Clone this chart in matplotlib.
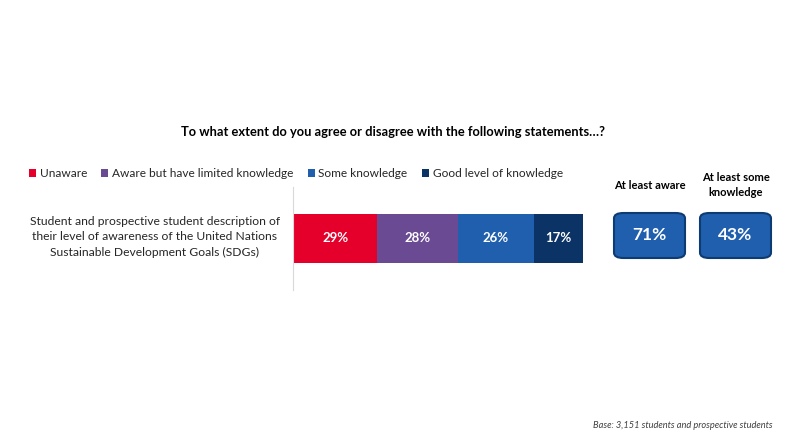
import matplotlib.pyplot as plt
from matplotlib.patches import FancyBboxPatch

plt.rcParams['font.family'] = ['Lato', 'DejaVu Sans']

categories = ["Unaware", "Aware but have limited knowledge", "Some knowledge", "Good level of knowledge"]
values = [29, 28, 26, 17]
colors = ['#E4002B', '#6B4A94', '#1F5FAD', '#0B3365']
row_label = "Student and prospective student description of\ntheir level of awareness of the United Nations\nSustainable Development Goals (SDGs)"
summary_labels = ["At least aware", "At least some\nknowledge"]
summary_values = [71, 43]

fig = plt.figure(figsize=(7.85, 4.42), dpi=100)
W, H = 785, 442

# bar axes
ax = fig.add_axes([293 / W, 1 - 290 / H, 290 / W, 103 / H])
left = 0
bars = []
for cat, v, c in zip(categories, values, colors):
    b = ax.barh(0, v, left=left, height=0.48, color=c, label=cat)
    bars.append(b)
    ax.text(left + v / 2, 0, f"{v}%", ha='center', va='center', color='white',
            fontsize=9.5, fontweight='bold')
    left += v
ax.set_xlim(0, 100)
ax.set_ylim(-0.5, 0.5)
ax.set_xticks([])
ax.set_yticks([])
for s in ['top', 'right', 'bottom']:
    ax.spines[s].set_visible(False)
ax.spines['left'].set_color('#D9D9D9')
ax.spines['left'].set_linewidth(0.8)

fig.text(155 / W, 1 - 237 / H, row_label, ha='center', va='center', fontsize=8.7,
         color='#262626', linespacing=1.45)

fig.text(393 / W, 1 - 132 / H, "To what extent do you agree or disagree with the following statements\u2026?",
         ha='center', va='center', fontsize=9.3, fontweight='bold', color='black')

fig.legend(handles=bars, labels=categories, loc='center left', ncol=4,
           bbox_to_anchor=(24 / W, 1 - 174 / H), frameon=False, fontsize=8.6,
           handlelength=0.6, handleheight=0.6, handletextpad=0.3, columnspacing=1.2,
           labelcolor='#262626', borderaxespad=0)

# summary boxes
box_x = [614, 700]
for x0, lab, v in zip(box_x, summary_labels, summary_values):
    p = FancyBboxPatch((x0 / W, 1 - 258 / H), 71 / W, 45 / H,
                       boxstyle="round,pad=0,rounding_size=0.012",
                       transform=fig.transFigure, facecolor='#1F5FAD',
                       edgecolor='#0D3B73', linewidth=1.5)
    fig.add_artist(p)
    fig.text((x0 + 35.5) / W, 1 - 235.5 / H, f"{v}%", ha='center', va='center',
             color='white', fontsize=12.5, fontweight='bold')
    fig.text((x0 + 35.5) / W, 1 - 185 / H, lab, ha='center', va='center',
             fontsize=8, fontweight='bold', color='black', linespacing=1.55)

fig.text(773 / W, 1 - 425 / H, "Base: 3,151 students and prospective students",
         ha='right', va='center', fontsize=6.7, style='italic', color='#404040')

fig.savefig("out.png", dpi=100)
